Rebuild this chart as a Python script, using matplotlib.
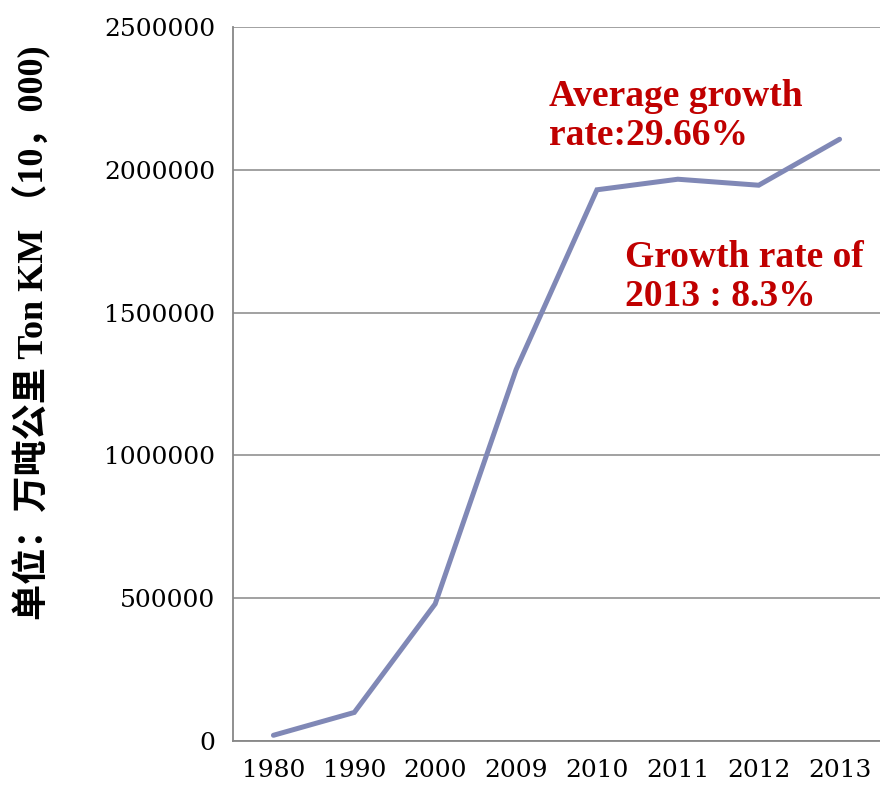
import matplotlib
matplotlib.use("Agg")
import matplotlib.pyplot as plt

# Freight turnover, unit: 10,000 ton-km
years = ["1980", "1990", "2000", "2009", "2010", "2011", "2012", "2013"]
turnover = [20000, 100000, 480000, 1300000, 1930000, 1967000, 1946000, 2107000]
y_ticks = [0, 500000, 1000000, 1500000, 2000000, 2500000]

line_color = "#8088B6"
grid_color = "#878787"
note_color = "#C00000"

fig = plt.figure(figsize=(8.8, 7.86), dpi=100)
ax = fig.add_axes([233 / 880, 1 - 741 / 786, 1 - 233 / 880, (741 - 27) / 786])

x = list(range(len(years)))
ax.plot(x, turnover, color=line_color, linewidth=3.6, solid_capstyle="round",
        solid_joinstyle="miter", zorder=3)

ax.set_xlim(-0.5, len(years) - 0.5)
ax.set_ylim(0, 2500000)
ax.set_xticks(x)
ax.set_xticklabels(years)
ax.set_yticks(y_ticks)
ax.set_yticklabels([str(v) for v in y_ticks])

ax.grid(axis="y", color=grid_color, linewidth=1.1)
ax.set_axisbelow(True)
for side in ("top", "right"):
    ax.spines[side].set_visible(False)
for side in ("left", "bottom"):
    ax.spines[side].set_color(grid_color)
    ax.spines[side].set_linewidth(1.3)

ax.tick_params(length=0, labelsize=18)
ax.tick_params(axis="y", pad=13)
ax.tick_params(axis="x", pad=13)
for lbl in ax.get_xticklabels() + ax.get_yticklabels():
    lbl.set_family("DejaVu Serif")

fig.text(31 / 880, 1 - 333 / 786, "单位：万吨公里 Ton KM （10，000)",
         rotation=90, ha="center", va="center", fontsize=26, fontweight="bold",
         family=["Liberation Serif", "Noto Sans CJK SC"])

fig.text(549 / 880, 1 - 79 / 786, "Average growth\nrate:29.66%",
         ha="left", va="top", fontsize=27, fontweight="bold", color=note_color,
         family="Liberation Serif", linespacing=1.15)
fig.text(625 / 880, 1 - 240 / 786, "Growth rate of\n2013 : 8.3%",
         ha="left", va="top", fontsize=27, fontweight="bold", color=note_color,
         family="Liberation Serif", linespacing=1.15)

fig.savefig("out.png", dpi=100)
